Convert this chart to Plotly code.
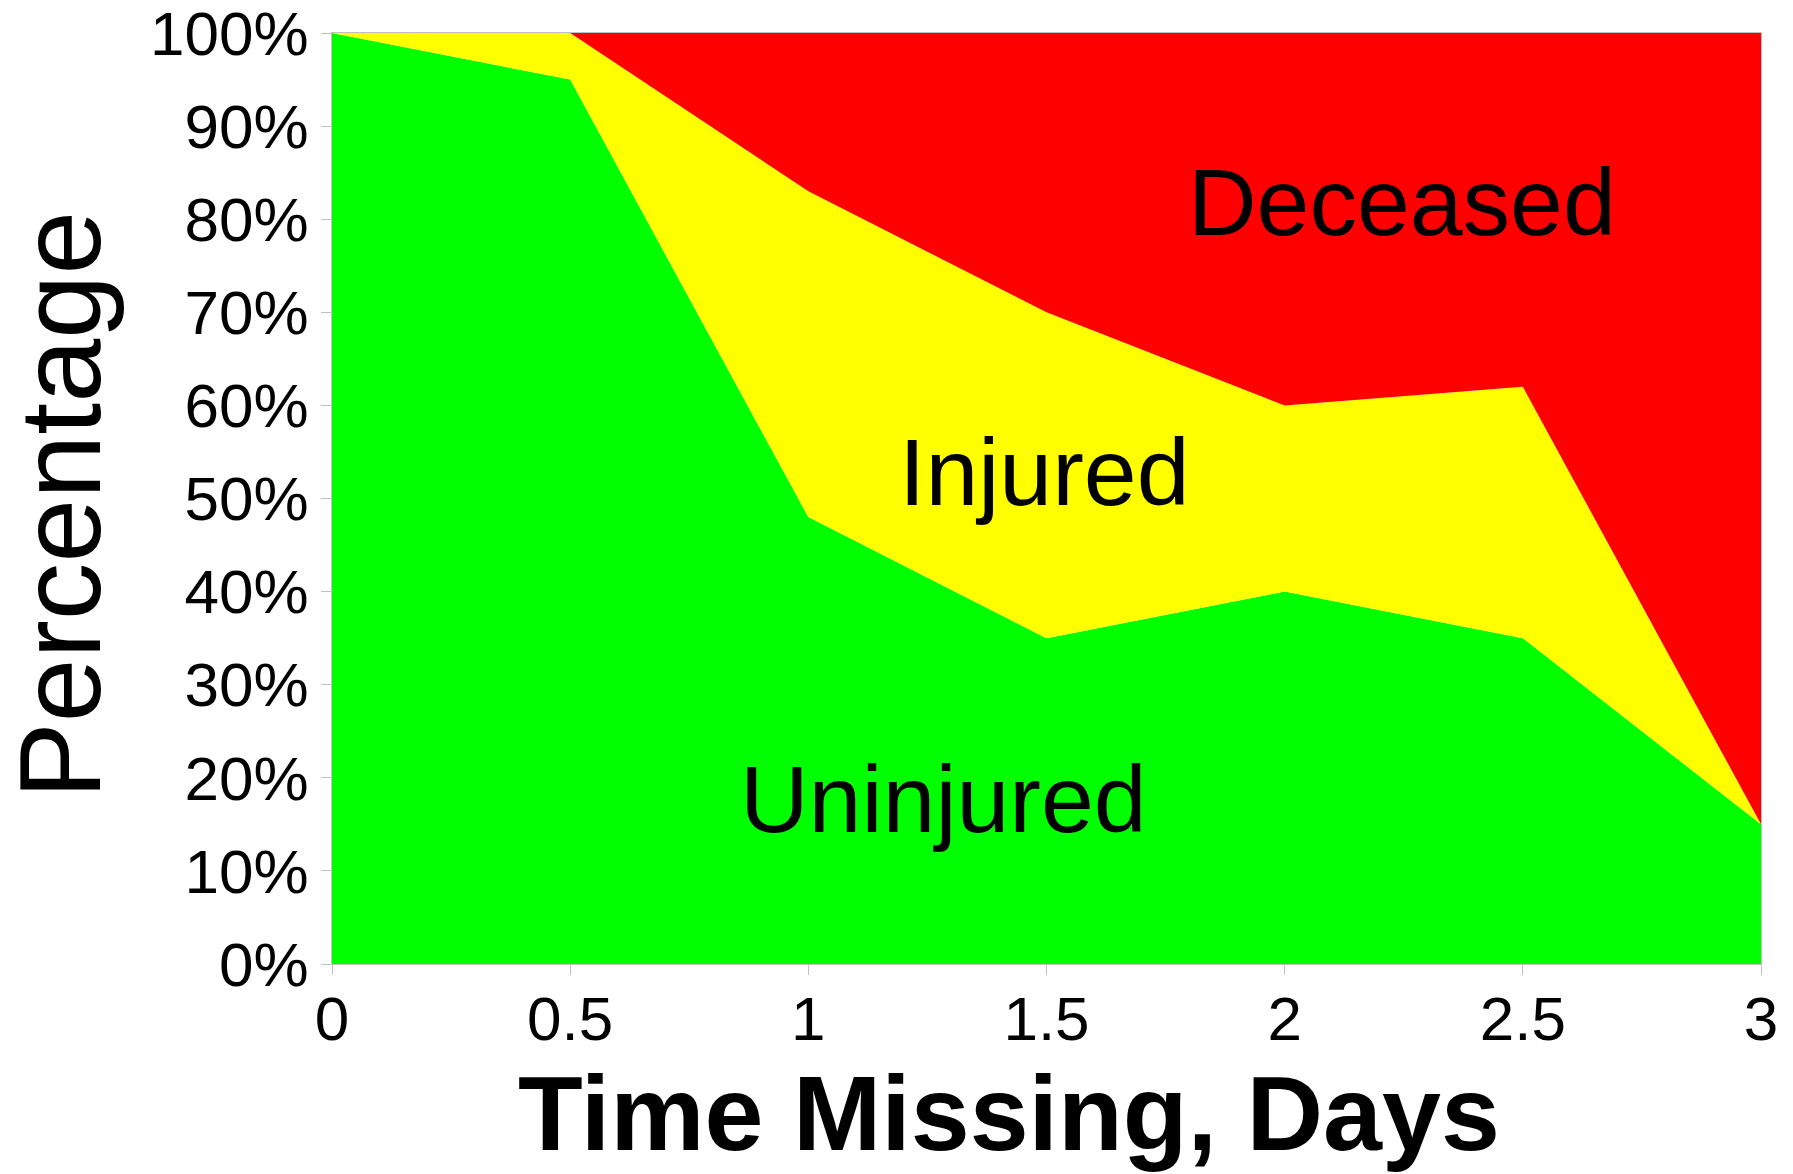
import plotly.graph_objects as go

# Data
days = [0, 0.5, 1, 1.5, 2, 2.5, 3]
uninjured = [100, 95, 48, 35, 40, 35, 15]
injured = [0, 5, 35, 35, 20, 27, 0]
deceased = [0, 0, 17, 30, 40, 38, 85]

series_names = ["Uninjured", "Injured", "Deceased"]
series_values = [uninjured, injured, deceased]
series_colors = ["#00ff00", "#ffff00", "#ff0000"]

# label positions (data coords)
label_x = [1.284, 1.4945, 2.247]
label_y = [17.7, 52.9, 81.8]

x_ticks = [0, 0.5, 1, 1.5, 2, 2.5, 3]
x_tick_text = ["0", "0.5", "1", "1.5", "2", "2.5", "3"]
y_ticks = [0, 10, 20, 30, 40, 50, 60, 70, 80, 90, 100]
y_tick_text = [f"{v}%" for v in y_ticks]

FONT = "Liberation Sans, Arial, sans-serif"

fig = go.Figure()
for name, vals, col in zip(series_names, series_values, series_colors):
    fig.add_trace(go.Scatter(
        x=days, y=vals, name=name, mode="lines",
        stackgroup="one", line=dict(width=0, color=col),
        fillcolor=col, hoverinfo="x+y+name",
    ))

for name, lx, ly in zip(series_names, label_x, label_y):
    fig.add_annotation(x=lx, y=ly, xref="x", yref="y", text=name,
                       showarrow=False, xanchor="center", yanchor="middle",
                       font=dict(family=FONT, size=95, color="black"))

W, H = 1793, 1174
OFF = 8  # page body margin
# target plot-area edges in the screenshot
PL, PR, PT, PB = 332, 1761.5, 33, 964
L = PL - OFF
T = PT - OFF
R = W - (PR - OFF)
B = H - (PB - OFF)
pw = PR - PL
ph = PB - PT

def px_to_paper_x(px):
    return (px - PL) / pw

def px_to_paper_y(py):
    return (PB - py) / ph

fig.add_annotation(x=px_to_paper_x(1009), y=px_to_paper_y(1113), xref="paper", yref="paper",
                   text="<b>Time Missing, Days</b>", showarrow=False,
                   xanchor="center", yanchor="middle",
                   font=dict(family=FONT, size=106, color="black"))
fig.add_annotation(x=px_to_paper_x(60), y=px_to_paper_y(505), xref="paper", yref="paper",
                   text="Percentage", showarrow=False, textangle=-90,
                   xanchor="center", yanchor="middle",
                   font=dict(family=FONT, size=115, color="black"))

axis_common = dict(showline=True, linecolor="#c0c0c0", linewidth=1, mirror=True,
                   showgrid=False, zeroline=False, ticks="outside", ticklen=10,
                   tickcolor="#c0c0c0", tickwidth=1, ticklabeloverflow="allow",
                   tickfont=dict(family=FONT, size=62, color="black"))

fig.update_xaxes(range=[0, 3], tickvals=x_ticks, ticktext=x_tick_text,
                 ticklabelstandoff=-9, **axis_common)
fig.update_yaxes(range=[0, 100], tickvals=y_ticks, ticktext=y_tick_text, **axis_common)

fig.update_layout(
    width=W, height=H,
    margin=dict(l=L, r=R, t=T, b=B, autoexpand=False),
    paper_bgcolor="white", plot_bgcolor="white",
    showlegend=False,
    font=dict(family=FONT, color="black"),
)

fig.write_html("out.html")
